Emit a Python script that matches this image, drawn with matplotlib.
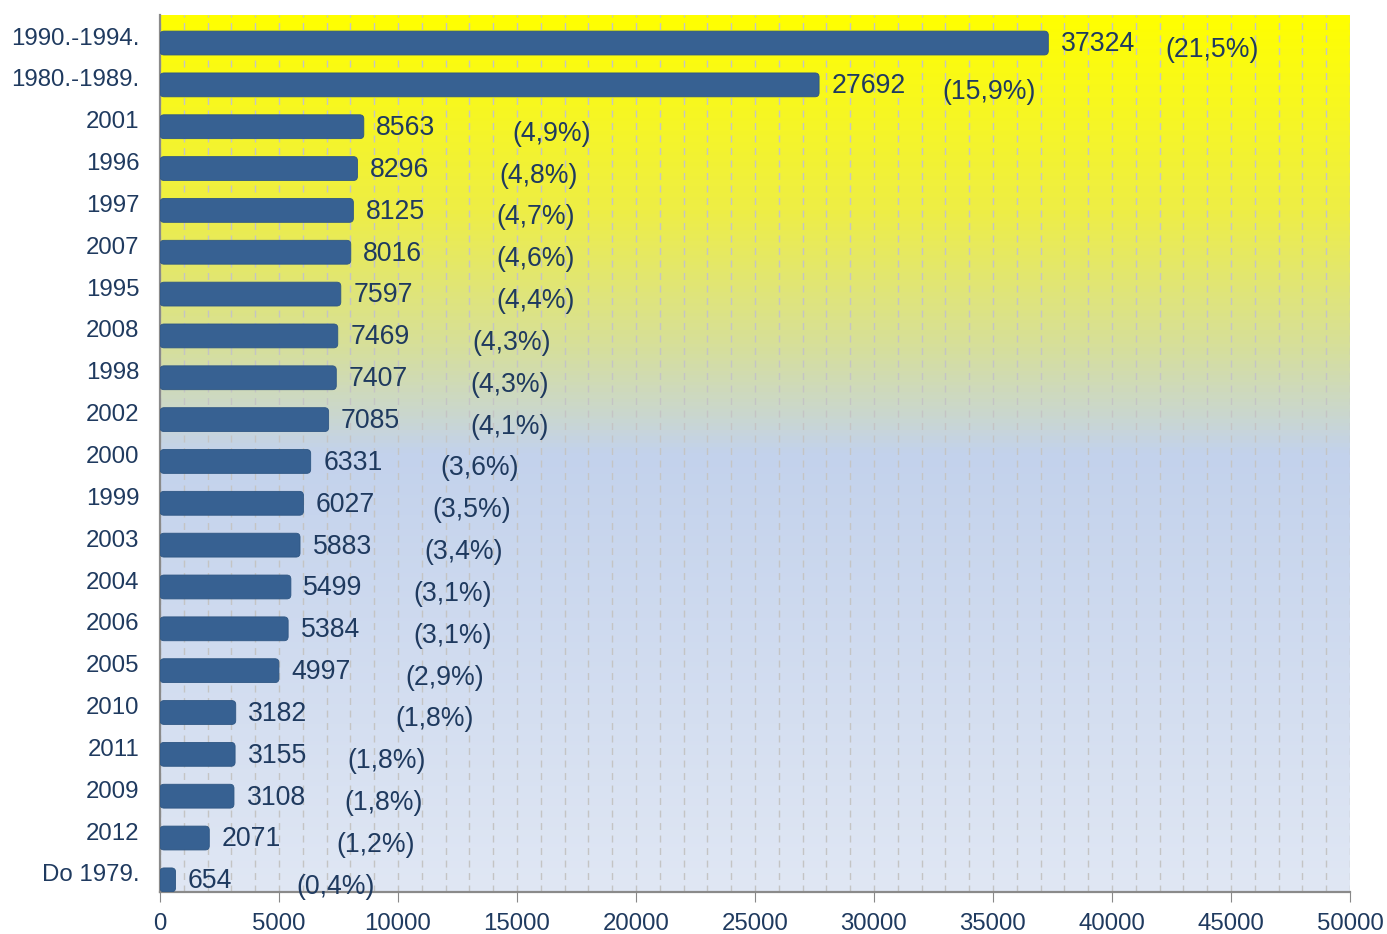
import numpy as np
import matplotlib.pyplot as plt
from matplotlib.colors import LinearSegmentedColormap
from matplotlib.patches import FancyBboxPatch
from matplotlib.transforms import offset_copy

categories = ['1990.-1994.', '1980.-1989.', '2001', '1996', '1997', '2007', '1995',
              '2008', '1998', '2002', '2000', '1999', '2003', '2004', '2006', '2005',
              '2010', '2011', '2009', '2012', 'Do 1979.']
values = [37324, 27692, 8563, 8296, 8125, 8016, 7597, 7469, 7407, 7085, 6331,
          6027, 5883, 5499, 5384, 4997, 3182, 3155, 3108, 2071, 654]
percents = ['21,5', '15,9', '4,9', '4,8', '4,7', '4,6', '4,4', '4,3', '4,3', '4,1', '3,6',
            '3,5', '3,4', '3,1', '3,1', '2,9', '1,8', '1,8', '1,8', '1,2', '0,4']
# where the percentage labels start (x in data units), as in the original layout
pct_x = [42260, 32880, 14800, 14250, 14130, 14130, 14130, 13120, 13040, 13040, 11780,
         11440, 11100, 10640, 10640, 10300, 9880, 7860, 7740, 7400, 5720]

plt.rcParams['font.family'] = ['Liberation Sans', 'DejaVu Sans']
txt_color = '#1f3a5f'
bar_color = '#376192'

fig = plt.figure(figsize=(13.87, 9.34), dpi=100)
ax = fig.add_axes([160 / 1387, 1 - 892 / 934, 1190 / 1387, 877 / 934])

# background gradient
bg = LinearSegmentedColormap.from_list('bg', [(0.0, '#ffff00'), (0.22, '#eeee45'),
                                              (0.38, '#d6df9c'), (0.50, '#c3d2ec'),
                                              (1.0, '#e0e7f4')])
grad = np.linspace(0, 1, 256).reshape(-1, 1)
ax.imshow(grad, cmap=bg, aspect='auto', extent=[0, 1, 0, 1], transform=ax.transAxes,
          origin='upper', zorder=0)

y = np.arange(len(categories))
bars = ax.barh(y, values, height=0.57, color=bar_color)
for b in bars:
    b.set_visible(False)
    p = FancyBboxPatch((b.get_x(), b.get_y()), b.get_width(), b.get_height(),
                       boxstyle='round,pad=0,rounding_size=170',
                       mutation_aspect=0.00057, facecolor=bar_color,
                       edgecolor='#2e5683', linewidth=0.6, zorder=3)
    ax.add_patch(p)

for i, v in enumerate(values):
    ax.annotate(str(v), (v, i), xytext=(9, -1), textcoords='offset points',
                ha='left', va='center', fontsize=19.2, color=txt_color, zorder=4)
    ax.annotate('(' + percents[i] + '%)', (pct_x[i], i), xytext=(0, -5),
                textcoords='offset points', ha='left', va='center',
                fontsize=19.2, color=txt_color, zorder=4)

ax.set_xlim(0, 50000)
ax.set_ylim(len(categories) - 1 + 0.29, -0.67)
ax.set_xticks(np.arange(0, 50001, 5000))
ax.set_xticks(np.arange(0, 50001, 1000), minor=True)
ax.grid(True, axis='x', which='both', linestyle=(0, (5, 4)), color='#c4c4c4',
        linewidth=1, zorder=1)
ax.set_axisbelow(True)
ax.tick_params(axis='x', which='major', length=7, color='#888888', labelsize=17.3,
               labelcolor=txt_color, pad=8)
ax.tick_params(axis='x', which='minor', length=0)

ax.set_yticks(y)
ax.set_yticklabels(categories)
ax.tick_params(axis='y', length=0, labelsize=17.3, labelcolor=txt_color, pad=15)
for lbl in ax.get_yticklabels():
    lbl.set_transform(offset_copy(lbl.get_transform(), fig=fig, x=0, y=5, units='points'))

for s in ['top', 'right']:
    ax.spines[s].set_visible(False)
ax.spines['left'].set_color('#8a8a8a')
ax.spines['bottom'].set_color('#8a8a8a')
ax.spines['left'].set_linewidth(1.6)
ax.spines['bottom'].set_linewidth(1.6)

fig.savefig('out.png', dpi=100)
